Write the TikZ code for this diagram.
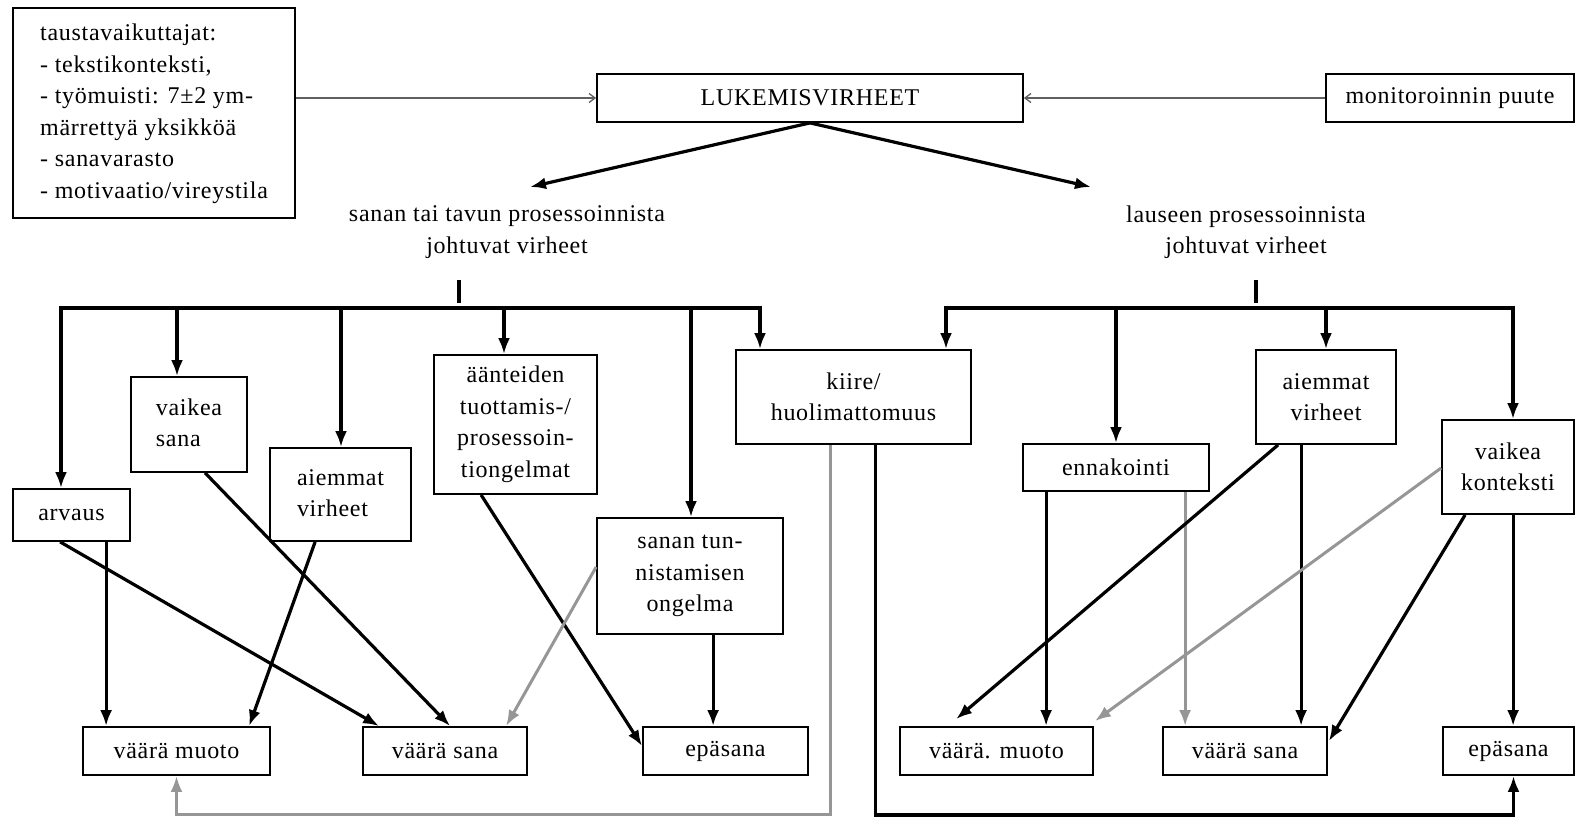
\documentclass[tikz,border=0pt]{standalone}
\usepackage{fontspec}
\setmainfont{Liberation Serif}[LetterSpace=3]
\usetikzlibrary{arrows.meta,calc}
\definecolor{lgray}{RGB}{150,150,150}
\definecolor{tgray}{RGB}{95,95,95}
\begin{document}
\begin{tikzpicture}[x=1pt,y=-1pt,
  bigtip/.tip={Latex[length=16pt,width=12pt]},
  smalltip/.tip={Straight Barb[length=6pt,width=9pt]},
  box/.style={draw, line width=1.8pt, inner sep=0pt, align=center,
    font=\fontsize{24}{31.5}\selectfont},
  lbl/.style={inner sep=0pt, align=center, font=\fontsize{24}{31.5}\selectfont},
  conn/.style={line width=3.2pt, -bigtip},
  bothconn/.style={line width=3.2pt, bigtip-bigtip},
  gconn/.style={line width=3pt, draw=lgray, -{Latex[length=16pt,width=12pt,color=lgray]}},
  bar/.style={line width=3.2pt},
  thinarr/.style={line width=1.3pt, draw=tgray, -smalltip},
]
\useasboundingbox (0,0) rectangle (1575,819);

% top row
\node[box, minimum width=282pt, minimum height=210pt] (bg) at (154,113)
  {\begin{tabular}{@{}l@{}}taustavaikuttajat:\\- tekstikonteksti,\\- työmuisti: 7±2 ym-\\märrettyä yksikköä\\- sanavarasto\\- motivaatio/vireystila\end{tabular}};
\node[box, minimum width=426pt, minimum height=48pt] (luk) at (810,98) {LUKEMISVIRHEET};
\node[box, minimum width=248pt, minimum height=48pt] (mon) at (1450,98) {monitoroinnin puute};

\draw[thinarr] (bg.east |- luk.west) -- (luk.west);
\draw[thinarr] (mon.west) -- (luk.east);

% category labels
\node[lbl] (catL) at (507,232) {sanan tai tavun prosessoinnista\\johtuvat virheet};
\node[lbl] (catR) at (1246,232) {lauseen prosessoinnista\\johtuvat virheet};
\coordinate (tipL) at (530,187);
\coordinate (tipR) at (1091,187);
\draw[conn] (luk.south) -- (tipL);
\draw[conn] (luk.south) -- (tipR);

% ticks
\coordinate (tL1) at (459,280); \coordinate (tL2) at (459,303);
\coordinate (tR1) at (1256,280); \coordinate (tR2) at (1256,303);
\draw[bar] (tL1) -- (tL2);
\draw[bar] (tR1) -- (tR2);

% left cause boxes
\node[box, minimum width=117pt, minimum height=52pt] (arv) at (71.5,515) {arvaus};
\node[box, minimum width=116pt, minimum height=95pt] (vsn) at (189,424.5) {\begin{tabular}{@{}l@{}}vaikea\\sana\end{tabular}};
\node[box, minimum width=141pt, minimum height=93pt] (ail) at (340.5,494.5) {\begin{tabular}{@{}l@{}}aiemmat\\virheet\end{tabular}};
\node[box, minimum width=163pt, minimum height=139pt] (aan) at (515.5,424.5) {äänteiden\\tuottamis-/\\prosessoin-\\tiongelmat};
\node[box, minimum width=186pt, minimum height=116pt] (stn) at (690,576) {sanan tun-\\nistamisen\\ongelma};
\node[box, minimum width=235pt, minimum height=94pt] (kii) at (853.5,397) {kiire/\\huolimattomuus};

% right cause boxes
\node[box, minimum width=186pt, minimum height=47pt] (enn) at (1116,467.5) {ennakointi};
\node[box, minimum width=140pt, minimum height=94pt] (air) at (1326,397) {aiemmat\\virheet};
\node[box, minimum width=132pt, minimum height=94pt] (vko) at (1508,467) {vaikea\\konteksti};

% result boxes
\node[box, minimum width=187pt, minimum height=48pt] (vml) at (176.5,751) {väärä muoto};
\node[box, minimum width=164pt, minimum height=48pt] (vsl) at (445,751) {väärä sana};
\node[box, minimum width=165pt, minimum height=48pt] (epl) at (725.5,751) {epäsana};
\node[box, minimum width=193pt, minimum height=48pt] (vmr) at (996.5,751) {väärä. muoto};
\node[box, minimum width=164pt, minimum height=48pt] (vsr) at (1245,751) {väärä sana};
\node[box, minimum width=131pt, minimum height=48pt] (epr) at (1508.5,751) {epäsana};

% left bus
\coordinate (L0) at (61,308);
\coordinate (L1) at (177,308);
\coordinate (L2) at (341,308);
\coordinate (L3) at (504,308);
\coordinate (L4) at (691,308);
\coordinate (L5) at (760,308);
\draw[bothconn] (L0 |- arv.north) |- (L5) -- (L5 |- kii.north);
\draw[conn] (L1) -- (L1 |- vsn.north);
\draw[conn] (L2) -- (L2 |- ail.north);
\draw[conn] (L3) -- (L3 |- aan.north);
\draw[conn] (L4) -- (L4 |- stn.north);

% right bus
\coordinate (R0) at (946,308);
\coordinate (R1) at (1116,308);
\coordinate (R2) at (1326,308);
\coordinate (R3) at (1513,308);
\draw[bothconn] (R0 |- kii.north) |- (R3) -- (R3 |- vko.north);
\draw[conn] (R1) -- (R1 |- enn.north);
\draw[conn] (R2) -- (R2 |- air.north);

% left lower connectors
\coordinate (a1) at ($(arv.south west)+(94,0)$);
\draw[conn] (a1) -- (a1 |- vml.north);
\draw[conn] ($(arv.south west)+(48,0)$) -- ($(vsl.north west)+(17,0)$);
\draw[conn] ($(vsn.south west)+(75,0)$) -- ($(vsl.north west)+(88,0)$);
\draw[conn] ($(ail.south west)+(46,0)$) -- ($(vml.north west)+(167,0)$);
\draw[conn] ($(aan.south west)+(48,0)$) -- ($(epl.north west)+(0,20)$);
\draw[gconn] ($(stn.west)+(0,-9)$) -- ($(vsl.north west)+(144,0)$);
\coordinate (s1) at ($(stn.south west)+(117,0)$);
\draw[conn] (s1) -- (s1 |- epl.north);

% loops from kiire
\coordinate (k1) at ($(kii.south west)+(95,0)$);
\coordinate (k2) at ($(kii.south west)+(140,0)$);
\draw[gconn] (k1) |- ($(vml.south)+(0,39)$) -- (vml.south);
\draw[conn] (k2) |- ($(epr.south)+(5,39)$) -- ($(epr.south)+(5,0)$);

% right lower connectors
\coordinate (e1) at ($(enn.south west)+(24,0)$);
\coordinate (e2) at ($(enn.south west)+(163,0)$);
\draw[conn] (e1) -- (e1 |- vmr.north);
\draw[gconn] (e2) -- (e2 |- vsr.north);
\draw[conn] ($(air.south west)+(23,0)$) -- ($(vmr.north west)+(57,-7)$);
\coordinate (r1) at ($(air.south west)+(46,0)$);
\draw[conn] (r1) -- (r1 |- vsr.north);
\draw[gconn] ($(vko.west)+(0,1)$) -- ($(vmr.north east)+(1,-5)$);
\draw[conn] ($(vko.south west)+(24,0)$) -- ($(vsr.north east)+(1,15)$);
\coordinate (v1) at ($(vko.south west)+(72,0)$);
\draw[conn] (v1) -- (v1 |- epr.north);
\end{tikzpicture}
\end{document}
